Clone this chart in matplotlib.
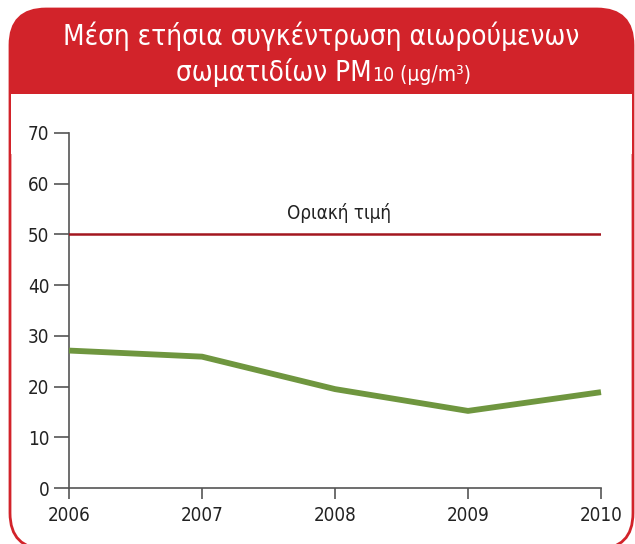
import matplotlib
matplotlib.use("Agg")
import matplotlib.pyplot as plt
from matplotlib.patches import FancyBboxPatch, Rectangle

years = [2006, 2007, 2008, 2009, 2010]
pm10 = [27.1, 25.9, 19.5, 15.2, 18.9]
limit_value = 50
y_ticks = [0, 10, 20, 30, 40, 50, 60, 70]
title_line1 = "Μέση ετήσια συγκέντρωση αιωρούμενων"
title_line2_parts = ["σωματιδίων PM", "10", " (μg/m³)"]
limit_label = "Οριακή τιμή"

plt.rcParams['font.family'] = ['DejaVu Sans']
plt.rcParams['font.stretch'] = 'condensed'
ST = 'condensed'

W, H = 635, 544
fig = plt.figure(figsize=(W / 100, H / 100), dpi=100)

# background frame
bg = fig.add_axes([0, 0, 1, 1])
bg.set_xlim(0, W)
bg.set_ylim(H, 0)
bg.axis('off')
RED = "#d2232a"
r = 36
# outer rounded frame with red border (filled, so no path clipping distortion)
bg.add_patch(FancyBboxPatch((10 + r, 9 + r), 623 - 2 * r, 540 - 2 * r,
                            boxstyle=f"round,pad={r}", fc="white", ec=RED, lw=2.0, zorder=1))
# red header (same rounded top), bottom covered by a white band inside the border
bg.add_patch(FancyBboxPatch((10 + r, 9 + r), 623 - 2 * r, 140 - 2 * r,
                            boxstyle=f"round,pad={r}", fc=RED, ec="none", zorder=2))
bg.add_patch(Rectangle((11.4, 94), 633 - 1.4 - 11.4, 60, fc="white", ec="none", zorder=3))

# title
bg.text(321, 36, title_line1, color="white", fontsize=20, fontstretch=ST,
        ha="center", va="center", zorder=5)
fig.canvas.draw()
rend = fig.canvas.get_renderer()
sizes = [20, 14, 15]
texts = []
for part, s in zip(title_line2_parts, sizes):
    t = bg.text(0, 81, part, color="white", fontsize=s, fontstretch=ST,
                ha="left", va="baseline", zorder=5)
    texts.append(t)
widths = [t.get_window_extent(rend).width for t in texts]
total = sum(widths)
x = 324 - total / 2
for t, w in zip(texts, widths):
    t.set_x(x)
    x += w

# main axes
ax = fig.add_axes([69 / W, (H - 488) / H, (601 - 69) / W, (488 - 133) / H])
ax.set_xlim(2006, 2010)
ax.set_ylim(0, 70)
ax.patch.set_alpha(0)
for s in ['top', 'right']:
    ax.spines[s].set_visible(False)
for s in ['left', 'bottom']:
    ax.spines[s].set_color("#555555")
    ax.spines[s].set_linewidth(1.2)
ax.set_xticks(years)
ax.set_yticks(y_ticks)
ax.tick_params(axis='y', length=11, width=1.2, color="#555555", labelsize=13.5,
               labelcolor="#222222", pad=3)
ax.tick_params(axis='x', length=8, width=1.2, color="#555555", labelsize=13.5,
               labelcolor="#222222", pad=5)
for lab in ax.get_xticklabels() + ax.get_yticklabels():
    lab.set_fontstretch(ST)

ax.plot([years[0], years[-1]], [limit_value, limit_value], color="#a3161f", lw=1.8, zorder=3)
ax.text(2008.03, limit_value + 2.2, limit_label, ha="center", va="bottom", fontsize=13.5,
        fontstretch=ST, color="#222222")
ax.plot(years, pm10, color="#6f963f", lw=4.2, solid_capstyle="butt", zorder=4, clip_on=False)

fig.savefig("out.png", dpi=100)
